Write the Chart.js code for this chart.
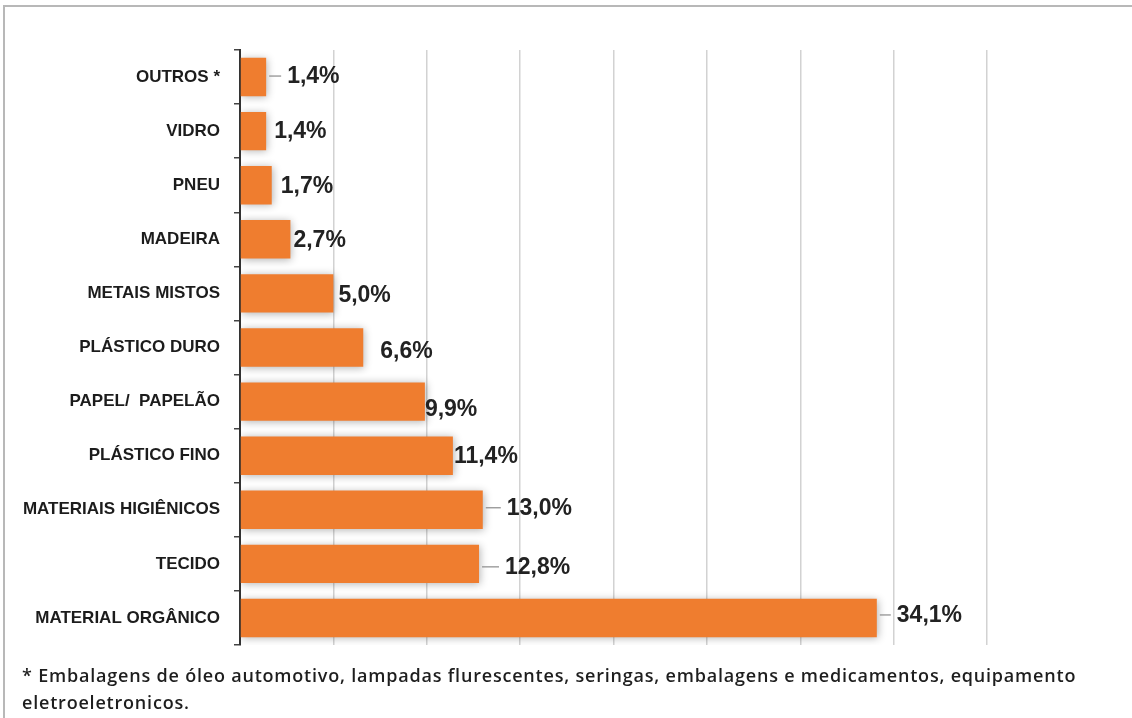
<!DOCTYPE html>
<html>
<head>
<meta charset="utf-8">
<script src="https://cdn.jsdelivr.net/npm/chart.js@4.4.1/dist/chart.umd.min.js"></script>
<style>
  html, body { margin: 0; padding: 0; background: #fff; }
  #wrap { position: relative; width: 1132px; height: 718px; overflow: hidden; }
  #frame { position: absolute; left: 3px; top: 5px; width: 1200px; height: 800px;
           border-top: 2px solid #b8b8b8; border-left: 2px solid #b8b8b8; }
  #chartBox { position: absolute; left: 0; top: 0; width: 1132px; height: 718px; }
  #note { position: absolute; left: 22px; top: 662px; width: 1105px; white-space: nowrap;
          font-family: "Open Sans", sans-serif; font-weight: 600; font-size: 18px;
          letter-spacing: 0.8px; line-height: 27px; color: #1e1e1e; }
</style>
</head>
<body>
<div id="wrap">
  <div id="frame"></div>
  <div id="chartBox"><canvas id="wasteChart"></canvas></div>
  <div id="note">* Embalagens de óleo automotivo, lampadas flurescentes, seringas, embalagens e medicamentos, equipamento<br>eletroeletronicos.</div>
</div>
<script>
const categories = [
  'OUTROS *', 'VIDRO', 'PNEU', 'MADEIRA', 'METAIS MISTOS', 'PLÁSTICO DURO',
  'PAPEL/  PAPELÃO', 'PLÁSTICO FINO', 'MATERIAIS HIGIÊNICOS', 'TECIDO', 'MATERIAL ORGÂNICO'
];
const percentages = [1.4, 1.4, 1.7, 2.7, 5.0, 6.6, 9.9, 11.4, 13.0, 12.8, 34.1];
const axisMin = 0;
const axisMax = 40;
const axisStep = 5;

// label placement tweaks (gap after bar end, vertical shift, leader line)
const labelGap = [21, 8, 9, 3, 5, 17, 0, 1, 24, 26, 20];
const labelShift = [-1, 0, 0, 0, 1, 3, 7, 0, -2, 3, -3];
const labelLeader = [true, false, false, false, false, false, false, false, true, true, true];

function fmt(v) {
  return v.toFixed(1).replace('.', ',') + '%';
}

// soft shadow behind the bars
const barShadow = {
  id: 'barShadow',
  beforeDatasetsDraw(chart) {
    const ctx = chart.ctx;
    ctx.save();
    ctx.shadowColor = 'rgba(0,0,0,0.3)';
    ctx.shadowBlur = 8;
    ctx.shadowOffsetX = 1;
    ctx.shadowOffsetY = 1;
  },
  afterDatasetsDraw(chart) {
    chart.ctx.restore();
  }
};

const valueLabels = {
  id: 'valueLabels',
  afterDatasetsDraw(chart) {
    const ctx = chart.ctx;
    const bars = chart.getDatasetMeta(0).data;
    ctx.save();
    ctx.font = 'bold 23px "Liberation Sans", Arial, sans-serif';
    ctx.fillStyle = '#222';
    ctx.textBaseline = 'middle';
    ctx.textAlign = 'left';
    bars.forEach((bar, i) => {
      const tx = bar.x + labelGap[i];
      const ty = bar.y + labelShift[i];
      if (labelLeader[i]) {
        ctx.strokeStyle = '#8a8a8a';
        ctx.lineWidth = 1.2;
        ctx.beginPath();
        ctx.moveTo(bar.x + 3, ty);
        ctx.lineTo(tx - 6, ty);
        ctx.stroke();
      }
      ctx.fillText(fmt(percentages[i]), tx, ty + 1);
    });
    ctx.restore();
  }
};

const ctx = document.getElementById('wasteChart').getContext('2d');
new Chart(ctx, {
  type: 'bar',
  data: {
    labels: categories,
    datasets: [{
      data: percentages,
      backgroundColor: '#EF7D2F',
      borderWidth: 0,
      barPercentage: 0.71,
      categoryPercentage: 1.0
    }]
  },
  options: {
    indexAxis: 'y',
    responsive: true,
    maintainAspectRatio: false,
    animation: false,
    layout: { padding: { top: 50, bottom: 73, left: 0, right: 145 } },
    scales: {
      x: {
        min: axisMin,
        max: axisMax,
        ticks: { display: false, stepSize: axisStep },
        grid: { color: '#d2d2d2', lineWidth: 1.5, drawTicks: false },
        border: { display: false },
        afterFit: (scale) => { scale.height = 0; }
      },
      y: {
        ticks: {
          color: '#1c1c1c',
          padding: 14,
          font: { family: '"Liberation Sans", Arial, sans-serif', size: 17, weight: 'bold' }
        },
        grid: { drawOnChartArea: false, drawTicks: true, tickLength: 6, color: '#444', lineWidth: 1.5 },
        border: { color: '#333', width: 2 },
        afterFit: (scale) => { scale.width = 240; }
      }
    },
    plugins: {
      legend: { display: false },
      tooltip: { enabled: false }
    }
  },
  plugins: [barShadow, valueLabels]
});
</script>
</body>
</html>
